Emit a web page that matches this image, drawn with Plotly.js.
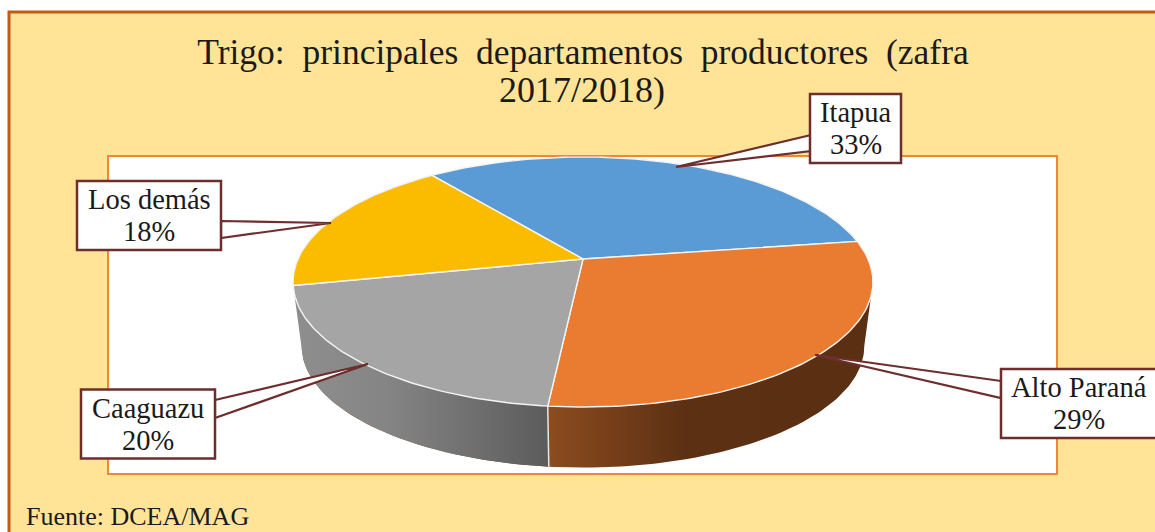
<!DOCTYPE html>
<html>
<head>
<meta charset="utf-8">
<script src="https://cdn.plot.ly/plotly-3.0.1.min.js"></script>
<style>html,body{margin:0;padding:0;background:#fff;overflow:hidden}#chart{width:1155px;height:532px}</style>
</head>
<body>
<div id="chart"></div>
<script>
// Data
const categories = ['Itapua', 'Alto Paraná', 'Caaguazu', 'Los demás'];
const shares = [33, 29, 20, 18];
const sliceColors = ['#5B9BD5', '#EA7C31', '#A5A5A5', '#FBBC00'];
const titleLine1 = 'Trigo:  principales  departamentos  productores  (zafra';
const titleLine2 = '2017/2018)';
const sourceText = 'Fuente: DCEA/MAG';

// Pie geometry, in page pixels (axes span the whole page)
const CX = 583, CY = 259, RX = 285, RY = 120.8, K = 0.184;
const START_DEG = 322.6, DEPTH = 65, SHRINK = 0.97;
const TIP_RIGHT = Math.acos(-K) * 180 / Math.PI;   // rim's right-most point

function rimTop(a) {
  const r = a * Math.PI / 180, u = Math.sin(r), v = -Math.cos(r), w = 1 - K * v;
  return [CX + RX * u / w, CY + RY * v / w];
}
function rimBottom(a) {
  const p = rimTop(a);
  return [CX + (p[0] - CX) * SHRINK, CY + (p[1] - CY) * SHRINK + DEPTH];
}
function arc(fn, a0, a1) {
  const n = Math.max(2, Math.ceil(Math.abs(a1 - a0))), out = [];
  for (let i = 0; i <= n; i++) out.push(fn(a0 + (a1 - a0) * i / n));
  return out;
}
function polyTrace(pts, extra) {
  return Object.assign({
    type: 'scatter', mode: 'lines', fill: 'toself', hoverinfo: 'skip', showlegend: false,
    x: pts.map(p => p[0]), y: pts.map(p => p[1])
  }, extra);
}

const total = shares.reduce((s, v) => s + v, 0);
const angles = [];
let cur = START_DEG;
shares.forEach(v => { angles.push([cur, cur + v / total * 360]); cur += v / total * 360; });

const traces = [];
// Side walls
const altoEnd = angles[1][1], caaEnd = angles[2][1];
const altoX = rimTop(altoEnd)[0];
traces.push(polyTrace(
  arc(rimTop, TIP_RIGHT, altoEnd).concat(arc(rimBottom, altoEnd, TIP_RIGHT)),
  { name: categories[1] + ' lateral', line: { color: 'rgba(0,0,0,0)', width: 0 },
    fillcolor: '#5C3013',
    fillgradient: { type: 'horizontal', start: altoX, stop: altoX + 326,
      colorscale: [[0, '#8C4C1E'], [0.42, '#5C3013'], [1, '#5A2F12']] } }
));
traces.push(polyTrace(
  arc(rimTop, altoEnd, caaEnd).concat(arc(rimBottom, caaEnd, altoEnd)),
  { name: categories[2] + ' lateral', line: { color: 'rgba(0,0,0,0)', width: 0 },
    fillcolor: '#777777',
    fillgradient: { type: 'horizontal', start: altoX - 250, stop: altoX,
      colorscale: [[0, '#8E8E8E'], [0.35, '#858585'], [1, '#5C5C5C']] } }
));
// Divider between walls
traces.push({ type: 'scatter', mode: 'lines', hoverinfo: 'skip', showlegend: false,
  x: [rimTop(altoEnd)[0], rimBottom(altoEnd)[0]], y: [rimTop(altoEnd)[1], rimBottom(altoEnd)[1]],
  line: { color: '#E8E8E8', width: 1.5 } });
// Top slices
categories.forEach((c, i) => {
  const pts = [[CX, CY]].concat(arc(rimTop, angles[i][0], angles[i][1]));
  pts.push([CX, CY]);
  traces.push(polyTrace(pts, { name: c, fillcolor: sliceColors[i], line: { color: '#F4F4F4', width: 1.4 } }));
});

// Callouts: box centre/size and the leader's wedge
const calloutCx = [855.5, 1079, 148, 149];
const calloutCy = [128.5, 403.5, 424, 215.5];
const calloutW = [91, 156, 134, 144];
const calloutH = 69;
const wedgeA = [[811, 135], [1001, 381], [215, 400], [221, 221]];
const wedgeTip = [[676, 167], [815, 355], [368, 364], [331, 223]];
const wedgeB = [[811, 151], [1001, 398], [215, 418], [221, 238]];
categories.forEach((c, i) => {
  traces.push(polyTrace([wedgeA[i], wedgeTip[i], wedgeB[i], wedgeA[i]],
    { name: c + ' guía', fillcolor: '#FFFFFF', line: { color: '#6E2E2E', width: 2.2 } }));
});

const serif = '"Liberation Serif", "Times New Roman", serif';
const annotations = [];
categories.forEach((c, i) => {
  const base = { x: calloutCx[i], xref: 'x', yref: 'y', xanchor: 'center', yanchor: 'middle',
    showarrow: false, align: 'center', font: { family: serif, size: 28.5, color: '#1A1A1A' } };
  annotations.push(Object.assign({}, base, { y: calloutCy[i] - 16, text: c }));
  annotations.push(Object.assign({}, base, { y: calloutCy[i] + 16, text: shares[i] + '%' }));
});
annotations.push({
  x: 24, y: 516, xref: 'x', yref: 'y', xanchor: 'left', yanchor: 'middle',
  text: sourceText, showarrow: false, font: { family: serif, size: 26, color: '#1A1A1A' }
});
annotations.push({
  x: 582, y: 90, xref: 'x', yref: 'y', xanchor: 'center', yanchor: 'middle',
  text: titleLine2, showarrow: false, font: { family: serif, size: 36, color: '#1A1A1A' }
});

const boxShapes = categories.map((c, i) => ({
  type: 'rect', layer: 'above', xref: 'x', yref: 'y',
  x0: calloutCx[i] - calloutW[i] / 2, x1: calloutCx[i] + calloutW[i] / 2,
  y0: calloutCy[i] - calloutH / 2, y1: calloutCy[i] + calloutH / 2,
  fillcolor: '#FFFFFF', line: { color: '#6E2E2E', width: 2.5 }
}));

const layout = {
  width: 1155, height: 532,
  margin: { l: 0, r: 0, t: 0, b: 0, pad: 0 },
  paper_bgcolor: '#FFFFFF', plot_bgcolor: 'rgba(0,0,0,0)',
  showlegend: false,
  title: { text: titleLine1, x: 583 / 1155, xanchor: 'center', y: 1 - 52 / 532, yanchor: 'middle',
           xref: 'paper', yref: 'paper',
           font: { family: serif, size: 35.5, color: '#1A1A1A' } },
  xaxis: { range: [0, 1155], visible: false, fixedrange: true },
  yaxis: { range: [532, 0], visible: false, fixedrange: true },
  shapes: [
    { type: 'rect', layer: 'below', xref: 'x', yref: 'y', x0: 9, y0: 12, x1: 1175, y1: 552,
      fillcolor: '#FFE498', line: { color: '#C55A11', width: 3 } },
    { type: 'rect', layer: 'below', xref: 'x', yref: 'y', x0: 108, y0: 156, x1: 1057, y1: 474,
      fillcolor: '#FFFFFF', line: { color: '#F4843A', width: 2 } }
  ].concat(boxShapes),
  annotations: annotations
};
Plotly.newPlot('chart', traces, layout, { displayModeBar: false, staticPlot: true });
</script>
</body>
</html>
